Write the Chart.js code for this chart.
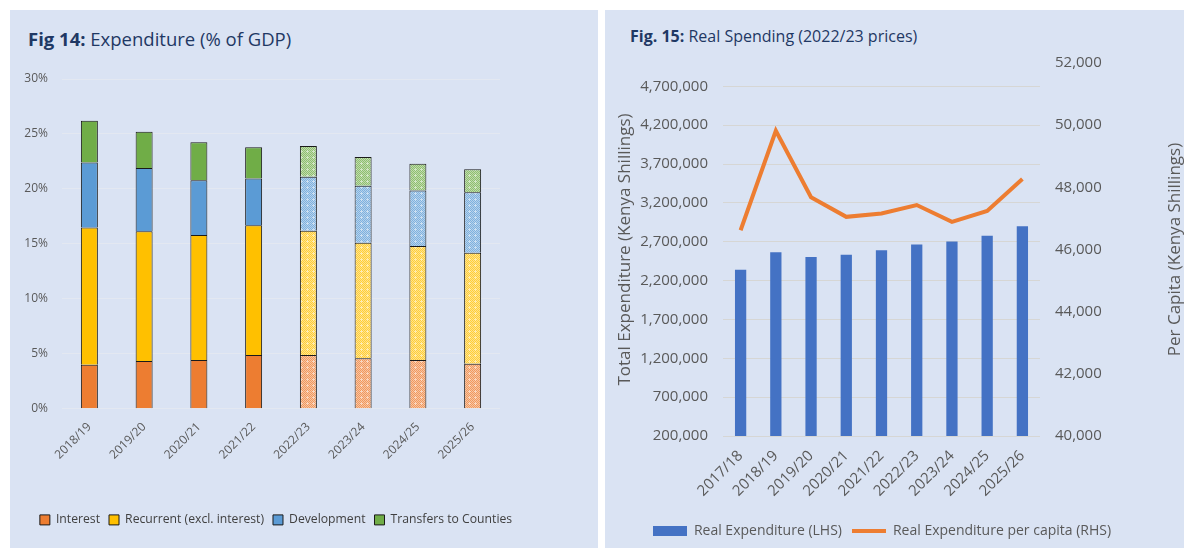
<!DOCTYPE html>
<html>
<head>
<meta charset="utf-8">
<script src="https://cdn.jsdelivr.net/npm/chart.js@4.4.0/dist/chart.umd.min.js"></script>
<style>
  body { margin: 0; background: #fff; width: 1184px; height: 548px; overflow: hidden; font-family: 'Open Sans', sans-serif; }
  .panel { position: absolute; top: 10px; height: 538px; background: #dae3f3; overflow: hidden; }
  #p1 { left: 10px; width: 588px; }
  #p2 { left: 605px; width: 579px; }
  .title { position: absolute; color: #1f3864; white-space: nowrap; }
  #p1 .title { left: 18px; top: 16px; font-size: 18.5px; }
  #p2 .title { left: 25px; top: 15px; font-size: 16px; }
  canvas { position: absolute; left: 0; top: 0; }
</style>
</head>
<body>
<div class="panel" id="p1">
  <div class="title"><b>Fig 14:</b> Expenditure (% of GDP)</div>
  <canvas id="fig14" width="588" height="538"></canvas>
</div>
<div class="panel" id="p2">
  <div class="title"><b>Fig. 15:</b> Real Spending (2022/23 prices)</div>
  <canvas id="fig15" width="579" height="538"></canvas>
</div>
<script>
// Fig 14 data (% of GDP)
const years14 = ['2018/19', '2019/20', '2020/21', '2021/22', '2022/23', '2023/24', '2024/25', '2025/26'];
const interest = [4.0, 4.35, 4.45, 4.9, 4.9, 4.6, 4.45, 4.1];
const recurrent = [12.5, 11.8, 11.35, 11.8, 11.3, 10.5, 10.35, 10.1];
const development = [5.9, 5.75, 5.0, 4.25, 4.9, 5.2, 5.05, 5.5];
const transfers = [3.8, 3.3, 3.45, 2.85, 2.8, 2.6, 2.45, 2.1];
const firstProjection = 4; // 2022/23 onwards drawn with the dotted fill

// Fig 15 data
const years15 = ['2017/18', '2018/19', '2019/20', '2020/21', '2021/22', '2022/23', '2023/24', '2024/25', '2025/26'];
const realExp = [2341000, 2564000, 2505000, 2531000, 2590000, 2664000, 2703000, 2776000, 2900000];
const realExpPerCapita = [46620, 49820, 47680, 47050, 47160, 47430, 46890, 47240, 48270];
const lhsTicks = [200000, 700000, 1200000, 1700000, 2200000, 2700000, 3200000, 3700000, 4200000, 4700000];

const tickGrey = '#595959';

// checkered "light dotted" fill, similar to Excel's pattern fill
function dotted(color) {
    const c = document.createElement('canvas');
    c.width = 6; c.height = 6;
    const g = c.getContext('2d');
    g.fillStyle = '#ffffff';
    g.fillRect(0, 0, 6, 6);
    g.globalAlpha = 0.45;
    g.fillStyle = color;
    g.fillRect(0, 0, 6, 6);
    g.globalAlpha = 0.6;
    for (let y = 0; y < 6; y++)
        for (let x = 0; x < 6; x++)
            if ((x + y) % 2 === 0) g.fillRect(x, y, 1, 1);
    g.globalAlpha = 0.35;
    g.fillStyle = '#ffffff';
    g.fillRect(3, 2, 1, 3);
    g.fillRect(2, 3, 3, 1);
    return g.createPattern(c, 'repeat');
}

function fills(color) {
    const pat = dotted(color);
    return years14.map((_, i) => i >= firstProjection ? pat : color);
}

function stack(label, data, color) {
    return {
        label, data,
        backgroundColor: fills(color),
        borderColor: '#1a1a1a',
        borderWidth: 1,
        categoryPercentage: 1,
        barPercentage: 0.31
    };
}

new Chart(document.getElementById('fig14'), {
    type: 'bar',
    data: {
        labels: years14,
        datasets: [
            stack('Interest', interest, '#ed7d31'),
            stack('Recurrent (excl. interest)', recurrent, '#ffc000'),
            stack('Development', development, '#5b9bd5'),
            stack('Transfers to Counties', transfers, '#70ad47')
        ]
    },
    options: {
        responsive: false,
        animation: false,
        layout: { padding: { left: 0, right: 56, top: 69, bottom: 12 } },
        plugins: {
            tooltip: { enabled: false },
            legend: {
                position: 'bottom',
                labels: { boxWidth: 10, boxHeight: 10, padding: 9, color: '#404040', font: { family: 'Open Sans', size: 12.2 } }
            }
        },
        scales: {
            x: {
                stacked: true,
                grid: { display: false },
                border: { display: false },
                ticks: { minRotation: 45, maxRotation: 45, color: tickGrey, font: { family: 'Open Sans', size: 12 } },
                afterFit(s) { s.height = 96; }
            },
            y: {
                stacked: true,
                min: 0, max: 30,
                ticks: { stepSize: 5, padding: 14, color: tickGrey, font: { family: 'Open Sans', size: 12 }, callback: v => v + '%' },
                grid: { color: '#e3e8f1', drawTicks: false },
                border: { display: false },
                afterFit(s) { s.width = 52; }
            },
            pad: {
                type: 'linear',
                position: 'right',
                grid: { display: false },
                border: { display: false },
                ticks: { display: false },
                afterFit(s) { s.width = 42; }
            }
        }
    }
});

// legend icons for fig 15
function icon(draw) {
    const c = document.createElement('canvas');
    c.width = 34; c.height = 10;
    draw(c.getContext('2d'));
    return c;
}
const barIcon = icon(g => { g.fillStyle = '#4472c4'; g.fillRect(0, 0, 34, 10); });
const lineIcon = icon(g => { g.fillStyle = '#ed7d31'; g.fillRect(0, 3, 34, 4); });
const legendIcons = [barIcon, lineIcon];

const axisTitles = {
    id: 'axisTitles',
    afterDraw(chart) {
        const { ctx, chartArea } = chart;
        const cy = (chartArea.top + chartArea.bottom) / 2;
        const titles = [[20, 'Total Expenditure (Kenya Shillings)'], [570, 'Per Capita (Kenya Shillings)']];
        titles.forEach(([x, text]) => {
            ctx.save();
            ctx.font = '17px "Open Sans"';
            ctx.fillStyle = tickGrey;
            ctx.textAlign = 'center';
            ctx.textBaseline = 'middle';
            ctx.translate(x, cy);
            ctx.rotate(-Math.PI / 2);
            ctx.fillText(text, 0, 0);
            ctx.restore();
        });
    }
};

new Chart(document.getElementById('fig15'), {
    type: 'bar',
    data: {
        labels: years15,
        datasets: [
            {
                label: 'Real Expenditure (LHS)',
                data: realExp,
                backgroundColor: '#4472c4',
                yAxisID: 'y',
                categoryPercentage: 1,
                barPercentage: 0.32,
                order: 2
            },
            {
                type: 'line',
                label: 'Real Expenditure per capita (RHS)',
                data: realExpPerCapita,
                borderColor: '#ed7d31',
                backgroundColor: '#ed7d31',
                borderWidth: 4,
                pointRadius: 0,
                tension: 0,
                yAxisID: 'y1',
                order: 1
            }
        ]
    },
    options: {
        responsive: false,
        animation: false,
        layout: { padding: { left: 0, right: 25, top: 53, bottom: 0 } },
        plugins: {
            tooltip: { enabled: false },
            legend: {
                position: 'bottom',
                labels: {
                    usePointStyle: true,
                    pointStyleWidth: 34,
                    padding: 10,
                    color: tickGrey,
                    font: { family: 'Open Sans', size: 14 },
                    sort: (a, b) => a.datasetIndex - b.datasetIndex,
                    generateLabels(chart) {
                        const items = Chart.defaults.plugins.legend.labels.generateLabels(chart);
                        items.forEach(it => { it.pointStyle = legendIcons[it.datasetIndex]; });
                        return items;
                    }
                }
            }
        },
        scales: {
            x: {
                grid: { display: false },
                border: { display: false },
                ticks: { minRotation: 45, maxRotation: 45, color: tickGrey, font: { family: 'Open Sans', size: 15 } },
                afterFit(s) { s.height = 78; }
            },
            y: {
                position: 'left',
                min: 200000, max: 5000000,
                afterBuildTicks(s) { s.ticks = lhsTicks.map(v => ({ value: v })); },
                ticks: { padding: 15, color: tickGrey, font: { family: 'Open Sans', size: 15 }, callback: v => v.toLocaleString('en-US') },
                grid: { color: '#d6d6d4', drawTicks: false },
                border: { display: false },
                afterFit(s) { s.width = 118; }
            },
            y1: {
                position: 'right',
                min: 40000, max: 52000,
                ticks: { stepSize: 2000, padding: 15, color: tickGrey, font: { family: 'Open Sans', size: 15 }, callback: v => v.toLocaleString('en-US') },
                grid: { display: false, drawTicks: false },
                border: { display: false },
                afterFit(s) { s.width = 119; }
            }
        }
    },
    plugins: [axisTitles]
});
</script>
</body>
</html>
